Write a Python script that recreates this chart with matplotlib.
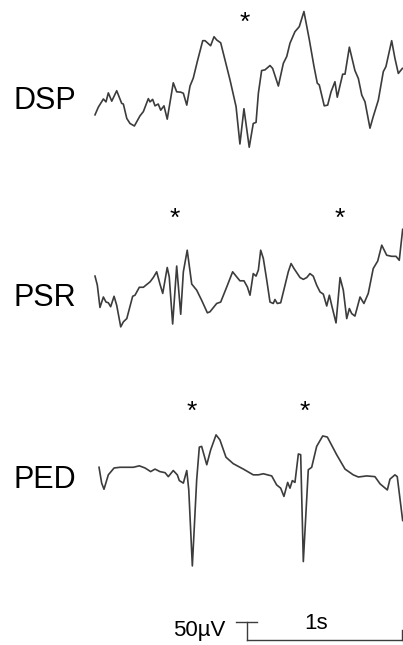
import matplotlib
matplotlib.use("Agg")
import matplotlib.pyplot as plt
import numpy as np

plt.rcParams["font.family"] = ["Liberation Sans", "DejaVu Sans"]

# time in seconds, amplitude in microvolts (relative to each trace's baseline)
dsp_t = [0, 0.021, 0.054, 0.071, 0.086, 0.108, 0.140, 0.172, 0.183, 0.205, 0.226, 0.254,
         0.290, 0.312, 0.344, 0.355, 0.372, 0.387, 0.408, 0.424, 0.445, 0.466, 0.505, 0.527,
         0.553, 0.570, 0.592, 0.613, 0.634, 0.660, 0.695, 0.710, 0.746, 0.768, 0.785, 0.811,
         0.839, 0.871, 0.910, 0.935, 0.961, 0.995, 1.021, 1.039, 1.054, 1.075, 1.097, 1.129,
         1.146, 1.183, 1.215, 1.237, 1.258, 1.290, 1.318, 1.348, 1.383, 1.413, 1.434, 1.447,
         1.479, 1.501, 1.523, 1.548, 1.563, 1.598, 1.613, 1.641, 1.677, 1.699, 1.721, 1.742,
         1.774, 1.795, 1.828, 1.860, 1.877, 1.914, 1.935, 1.957, 1.983]
dsp_uv = [-69, -48, -25, -33, -8, -31, -2, -37, -39, -79, -93, -100,
          -72, -60, -24, -33, -26, -44, -39, -56, -44, -81, 20, -5,
          -6, -9, -42, 11, 33, 79, 137, 137, 123, 148, 139, 131,
          83, 28, -46, -150, -52, -159, -93, -90, -9, 54, 56, 68,
          60, 11, 74, 93, 130, 162, 176, 218, 139, 65, 19, 14,
          -44, -42, -5, 23, -20, 44, 44, 119, 54, 32, -14, -33,
          -106, -74, -28, 51, 65, 137, 88, 46, 60]

psr_t = [0, 0.015, 0.032, 0.054, 0.071, 0.086, 0.101, 0.123, 0.140, 0.166, 0.183, 0.205,
         0.243, 0.258, 0.286, 0.312, 0.329, 0.355, 0.376, 0.398, 0.419, 0.437, 0.466, 0.479,
         0.501, 0.527, 0.553, 0.570, 0.595, 0.624, 0.656, 0.688, 0.725, 0.742, 0.785, 0.811,
         0.850, 0.888, 0.914, 0.935, 0.961, 0.983, 1.000, 1.021, 1.039, 1.054, 1.069, 1.086,
         1.108, 1.129, 1.150, 1.161, 1.176, 1.198, 1.226, 1.247, 1.265, 1.284, 1.323, 1.344,
         1.366, 1.387, 1.408, 1.430, 1.452, 1.473, 1.495, 1.512, 1.527, 1.555, 1.581, 1.602,
         1.624, 1.641, 1.656, 1.677, 1.710, 1.735, 1.763, 1.795, 1.824, 1.850, 1.882, 1.914,
         1.942, 1.963, 1.985]
psr_uv = [39, 14, -48, -19, -33, -35, -46, -17, -42, -102, -88, -79,
          -17, -14, 8, 8, 14, 23, 35, 51, 17, -9, 63, 37,
          -94, 67, -67, 51, 111, 17, 0, -28, -63, -60, -37, -33,
          9, 51, 37, 26, 26, 9, -14, 46, 39, 56, 111, 88,
          28, -33, -37, -26, -37, -35, 14, 51, 74, 60, 35, 30,
          35, 46, 39, 14, -5, -11, -44, -14, -42, -91, 35, 0,
          -79, -51, -65, -72, -19, -37, -9, 60, 81, 125, 97, 94,
          94, 83, 169]

ped_t = [0.026, 0.043, 0.058, 0.086, 0.123, 0.161, 0.205, 0.247, 0.286, 0.323, 0.359, 0.387,
         0.419, 0.452, 0.473, 0.505, 0.531, 0.544, 0.570, 0.592, 0.605, 0.628, 0.656, 0.673,
         0.688, 0.721, 0.746, 0.781, 0.806, 0.845, 0.892, 0.957, 1.021, 1.054, 1.086, 1.140,
         1.172, 1.198, 1.219, 1.243, 1.258, 1.273, 1.290, 1.312, 1.327, 1.344, 1.376, 1.398,
         1.430, 1.469, 1.499, 1.559, 1.613, 1.666, 1.699, 1.753, 1.806, 1.839, 1.886, 1.903,
         1.935, 1.950, 1.985]
ped_uv = [21, -23, -40, 0, 19, 21, 21, 21, 25, 19, 9, 16,
          9, 6, -5, 12, 0, -16, -23, 12, -42, -253, -14, 77,
          79, 28, 69, 111, 97, 49, 31, 16, 0, 0, 3, -3,
          -28, -37, -60, -21, -37, -16, -21, 58, 56, -241, 14, 21,
          79, 108, 105, 56, 16, 0, -6, -3, -5, -25, -42, -12,
          0, -5, -127]

trace_names = ["DSP", "PSR", "PED"]
trace_offsets = [-250, -806, -1319]      # baseline of each trace on the page (uV)
label_heights = [-303, -850, -1356]
star_times = [[0.968], [0.516, 1.581], [0.624, 1.350]]
star_heights = [-48, -591, -1128]

scale_uv = 50
scale_s = 1
scale_origin = (0.979, -1778)

UV_PER_PX = 50 / 18
PX_PER_S = 155
LINE = "#3c3c3c"


def main() -> None:
    fig = plt.figure(figsize=(4.03, 6.45), dpi=100)
    ax = fig.add_axes([0, 0, 1, 1])
    ax.set_xlim(-95 / PX_PER_S, 308 / PX_PER_S)
    ax.set_ylim(-645 * UV_PER_PX, 0)
    ax.axis("off")

    traces = [(dsp_t, dsp_uv), (psr_t, psr_uv), (ped_t, ped_uv)]
    for name, (t, uv), off, ly, stars, sy in zip(trace_names, traces, trace_offsets,
                                                 label_heights, star_times, star_heights):
        ax.plot(t, np.array(uv) + off, color=LINE, lw=1.2, solid_joinstyle="round")
        ax.text(-0.529, ly, name, fontsize=22, ha="left", va="baseline", color="black")
        for st in stars:
            ax.text(st, sy - 35, "*", fontsize=19, ha="center", va="baseline", color="black")

    # scale bar
    x0, y0 = scale_origin
    ax.plot([x0, x0 + scale_s], [y0, y0], color=LINE, lw=1.0)
    ax.plot([x0, x0], [y0, y0 + scale_uv], color=LINE, lw=1.0)
    ax.plot([x0 - 0.068, x0 + 0.068], [y0 + scale_uv, y0 + scale_uv], color=LINE, lw=1.0)
    ax.plot([x0 + scale_s, x0 + scale_s], [y0, y0 + 28], color=LINE, lw=1.0)
    ax.text(x0 - 0.135, y0 + 12, "50µV", fontsize=16, ha="right", va="baseline")
    ax.text(x0 + 0.45, y0 + 31, "1s", fontsize=16, ha="center", va="baseline")

    fig.savefig("out.png", dpi=100)
    plt.close(fig)


if __name__ == "__main__":
    main()
